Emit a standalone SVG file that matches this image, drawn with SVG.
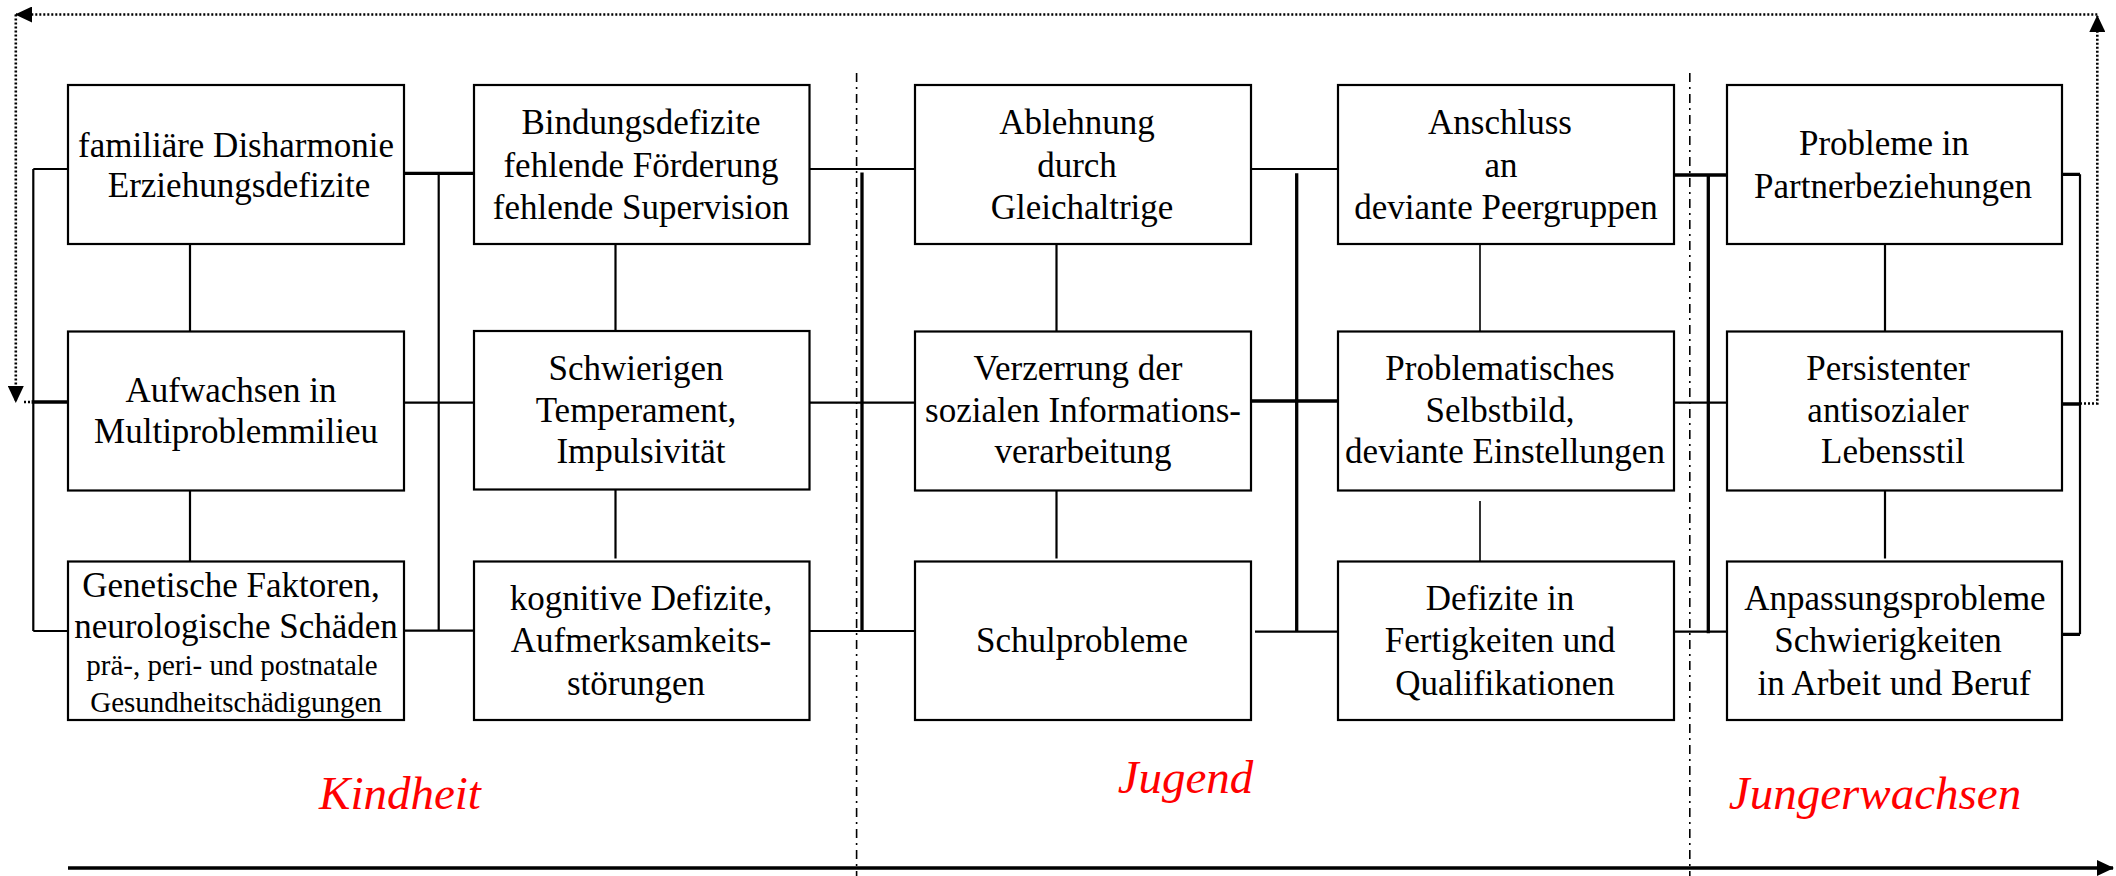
<svg xmlns="http://www.w3.org/2000/svg" width="2116" height="876" viewBox="0 0 2116 876">
<style>
.box{fill:#fff;stroke:#000;stroke-width:2.2}
.t{font-family:"Liberation Serif","Times New Roman",serif;font-size:35px;fill:#000;text-anchor:middle}
.s{font-size:29px}
.ln{fill:none;stroke:#000;stroke-width:2.2}
.bd{fill:none;stroke:#000;stroke-width:3.3}
.th{fill:none;stroke:#000;stroke-width:1.6}
.dot{fill:none;stroke:#000;stroke-width:2.6;stroke-dasharray:2 2}
.dd{fill:none;stroke:#000;stroke-width:1.6;stroke-dasharray:9 5 2 5}
.lbl{font-family:"Liberation Serif","Times New Roman",serif;font-size:47px;font-style:italic;fill:#ff0000;text-anchor:middle}
</style>
<defs>
<marker id="arr" viewBox="0 0 17 16" refX="16" refY="8" markerWidth="17" markerHeight="16" markerUnits="userSpaceOnUse" orient="auto">
<path d="M0,0 L17,8 L0,16 Z" fill="#000"/>
</marker>
</defs>
<rect width="2116" height="876" fill="#fff"/>

<g id="phase-dividers">
<path class="dd" d="M856.6,73 V876"/>
<path class="dd" d="M1689.8,73 V876"/>
</g>

<g id="connectors">
<!-- left bracket -->
<path class="ln" d="M33.3,169 V631 M33.3,169 H68 M33.3,631 H68"/>
<path class="bd" d="M31.6,402 H68"/>
<!-- column verticals -->
<path class="ln" d="M190,244 V331.5 M190,490.5 V561.5"/>
<path class="ln" d="M615.5,244 V331 M615.5,489 V558.5"/>
<path class="ln" d="M1056.5,244 V331.5 M1056.5,488 V558.5"/>
<path class="th" d="M1480,244 V331.5 M1480,501 V572"/>
<path class="ln" d="M1885,244 V331.5 M1885,488 V558.5"/>
<!-- bus col1-col2 -->
<path class="ln" d="M438.7,173 V631 M404,402.7 H474 M404,630.7 H474"/>
<path class="bd" d="M404,173.3 H474"/>
<!-- bus col2-col3 -->
<path class="bd" d="M862,172.5 V631"/>
<path class="ln" d="M809.5,169 H915 M809.5,402.7 H915 M809.5,631 H915"/>
<!-- bus col3-col4 -->
<path class="bd" d="M1296.7,173.3 V631.7 M1251,401 H1338"/>
<path class="ln" d="M1251,169 H1338 M1255,631.7 H1342"/>
<!-- bus col4-col5 -->
<path class="bd" d="M1708.3,174.3 V633.3 M1674,175 H1727"/>
<path class="ln" d="M1674,402.7 H1727 M1674,631.7 H1727"/>
<!-- right bracket -->
<path class="ln" d="M2080,174.3 V634.3"/>
<path class="bd" d="M2062,174.3 H2080 M2062,404 H2080 M2062,634.3 H2080"/>
<!-- feedback loop (dotted) -->
<path class="dot" d="M2080,403.5 H2097.3 V16" marker-end="url(#arr)"/>
<path class="dot" d="M2097.3,14.5 H16" marker-end="url(#arr)"/>
<path class="dot" d="M15.8,14.5 V402" marker-end="url(#arr)"/>
<path class="dot" d="M24,402 H32"/>
<!-- time axis -->
<path class="bd" d="M68,868 H2113" marker-end="url(#arr)"/>
</g>

<g id="n-familiaere">
<rect class="box" x="68" y="85" width="336" height="159"/>
<text class="t" x="236" y="156.5">familiäre Disharmonie</text>
<text class="t" x="239" y="197">Erziehungsdefizite</text>
</g>
<g id="n-aufwachsen">
<rect class="box" x="68" y="331.5" width="336" height="159"/>
<text class="t" x="231" y="401.7">Aufwachsen in</text>
<text class="t" x="236" y="443.3">Multiproblemmilieu</text>
</g>
<g id="n-genetische">
<rect class="box" x="68" y="561.5" width="336" height="158.5"/>
<text class="t" x="231" y="596.7">Genetische Faktoren,</text>
<text class="t" x="236" y="638.3">neurologische Schäden</text>
<text class="t s" x="232" y="675">prä-, peri- und postnatale</text>
<text class="t s" x="236" y="711.7">Gesundheitschädigungen</text>
</g>

<g id="n-bindung">
<rect class="box" x="474" y="85" width="335.5" height="159"/>
<text class="t" x="641" y="134">Bindungsdefizite</text>
<text class="t" x="641" y="177">fehlende Förderung</text>
<text class="t" x="641" y="219.3">fehlende Supervision</text>
</g>
<g id="n-temperament">
<rect class="box" x="474" y="331" width="335.5" height="158.5"/>
<text class="t" x="636" y="380">Schwierigen</text>
<text class="t" x="636" y="421.7">Temperament,</text>
<text class="t" x="641" y="463.3">Impulsivität</text>
</g>
<g id="n-kognitiv">
<rect class="box" x="474" y="561.5" width="335.5" height="158.5"/>
<text class="t" x="641" y="610">kognitive Defizite,</text>
<text class="t" x="641" y="651.7">Aufmerksamkeits-</text>
<text class="t" x="636" y="695">störungen</text>
</g>

<g id="n-ablehnung">
<rect class="box" x="915" y="85" width="336" height="159"/>
<text class="t" x="1077" y="134">Ablehnung</text>
<text class="t" x="1077" y="177">durch</text>
<text class="t" x="1082" y="219.3">Gleichaltrige</text>
</g>
<g id="n-verzerrung">
<rect class="box" x="915" y="331.5" width="336" height="159"/>
<text class="t" x="1078" y="380">Verzerrung der</text>
<text class="t" x="1083" y="421.7">sozialen Informations-</text>
<text class="t" x="1083" y="463.3">verarbeitung</text>
</g>
<g id="n-schule">
<rect class="box" x="915" y="561.5" width="336" height="158.5"/>
<text class="t" x="1082" y="651.7">Schulprobleme</text>
</g>

<g id="n-anschluss">
<rect class="box" x="1338" y="85" width="336" height="159"/>
<text class="t" x="1500" y="134">Anschluss</text>
<text class="t" x="1501" y="177">an</text>
<text class="t" x="1506" y="219.3">deviante Peergruppen</text>
</g>
<g id="n-selbstbild">
<rect class="box" x="1338" y="331.5" width="336" height="159"/>
<text class="t" x="1500" y="380">Problematisches</text>
<text class="t" x="1500" y="421.7">Selbstbild,</text>
<text class="t" x="1505" y="463.3">deviante Einstellungen</text>
</g>
<g id="n-fertigkeiten">
<rect class="box" x="1338" y="561.5" width="336" height="158.5"/>
<text class="t" x="1500" y="610">Defizite in</text>
<text class="t" x="1500" y="651.7">Fertigkeiten und</text>
<text class="t" x="1505" y="695">Qualifikationen</text>
</g>

<g id="n-partner">
<rect class="box" x="1727" y="85" width="335" height="159"/>
<text class="t" x="1884" y="155">Probleme in</text>
<text class="t" x="1893" y="198.3">Partnerbeziehungen</text>
</g>
<g id="n-lebensstil">
<rect class="box" x="1727" y="331.5" width="335" height="159"/>
<text class="t" x="1888" y="380">Persistenter</text>
<text class="t" x="1888" y="421.7">antisozialer</text>
<text class="t" x="1893" y="463.3">Lebensstil</text>
</g>
<g id="n-anpassung">
<rect class="box" x="1727" y="561.5" width="335" height="158.5"/>
<text class="t" x="1895" y="610">Anpassungsprobleme</text>
<text class="t" x="1888" y="651.7">Schwierigkeiten</text>
<text class="t" x="1894" y="695">in Arbeit und Beruf</text>
</g>

<g id="phase-labels">
<text class="lbl" x="400" y="809">Kindheit</text>
<text class="lbl" x="1185.5" y="793">Jugend</text>
<text class="lbl" x="1875" y="808.5">Jungerwachsen</text>
</g>
</svg>
